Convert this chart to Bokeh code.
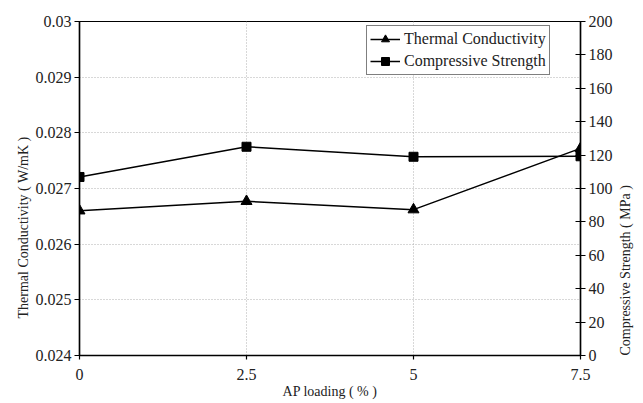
import math
from bokeh.plotting import figure
from bokeh.models import Range1d, LinearAxis, FixedTicker, Legend, LegendItem, Title
from bokeh.embed import file_html
from bokeh.resources import INLINE

# data
ap_loading = [0, 2.5, 5, 7.5]
thermal_conductivity = [0.0266, 0.02677, 0.02662, 0.02772]
compressive_strength = [106.9, 125.0, 119.0, 119.3]

x_ticks = [0, 2.5, 5, 7.5]
x_tick_labels = ["0", "2.5", "5", "7.5"]
y_ticks = [0.024, 0.025, 0.026, 0.027, 0.028, 0.029, 0.03]
y_tick_labels = ["0.024", "0.025", "0.026", "0.027", "0.028", "0.029", "0.03"]
y2_ticks = [0, 20, 40, 60, 80, 100, 120, 140, 160, 180, 200]

x_title = "AP loading ( % )"
y_title = "Thermal Conductivity ( W/mK )"
y2_title = "Compressive Strength ( MPa )"

FONT = "Liberation Serif"

p = figure(width=643, height=403, output_backend="svg", toolbar_location=None,
           x_range=Range1d(0, 7.5), y_range=Range1d(0.024, 0.03),
           min_border_left=79, min_border_right=60, min_border_top=21, min_border_bottom=48)
p.extra_y_ranges = {"cs": Range1d(0, 200)}
p.background_fill_color = "white"
p.border_fill_color = "white"
p.outline_line_color = "black"
p.outline_line_width = 1.2

# axes
xa = p.xaxis[0]
xa.ticker = FixedTicker(ticks=x_ticks)
xa.major_label_overrides = dict(zip(x_ticks, x_tick_labels))
xa.axis_label = x_title

ya = p.yaxis[0]
ya.ticker = FixedTicker(ticks=y_ticks)
ya.major_label_overrides = dict(zip(y_ticks, y_tick_labels))

y2 = LinearAxis(y_range_name="cs", ticker=FixedTicker(ticks=y2_ticks),
                axis_label=y2_title)
y2.axis_label_orientation = math.pi / 2
try:
    y2.axis_label_align = "start"
except Exception:
    pass
p.add_layout(y2, "right")

for ax in (xa, ya, y2):
    ax.axis_line_color = "black"
    ax.axis_line_width = 1.5
    ax.major_tick_line_color = "black"
    ax.major_tick_line_width = 1.2
    ax.minor_tick_line_color = None
    ax.major_label_text_font = FONT
    ax.major_label_text_font_size = "16px"
    ax.major_label_text_color = "#222222"
    ax.axis_label_text_font = FONT
    ax.axis_label_text_font_size = "14px"
    ax.axis_label_text_font_style = "normal"
    ax.axis_label_text_color = "#222222"

xa.major_tick_out = 4
xa.major_tick_in = 0
xa.major_label_standoff = 9
xa.axis_label_standoff = 1
ya.major_tick_out = 5
ya.major_tick_in = 0
ya.major_label_standoff = 3
y2.major_tick_out = 5
y2.major_tick_in = 5
y2.major_label_standoff = 3
y2.axis_label_standoff = 10

# left axis title, placed lower than centre like the original
left_title = Title(text=y_title, align="left", offset=37,
                   text_font=FONT, text_font_size="14px", text_font_style="normal",
                   text_color="#222222", standoff=4)
p.add_layout(left_title, "left")

# grid
p.xgrid.ticker = FixedTicker(ticks=x_ticks)
p.ygrid.ticker = FixedTicker(ticks=y_ticks)
for g in (p.xgrid[0], p.ygrid[0]):
    g.grid_line_color = "#b0b0b0"
    g.grid_line_dash = "1 2"
    g.grid_line_width = 1

# series
tc_line = p.line(ap_loading, thermal_conductivity, line_color="black", line_width=1.5)
tc_pts = p.scatter(ap_loading, thermal_conductivity, marker="triangle", size=11,
                   fill_color="black", line_color="black")
cs_line = p.line(ap_loading, compressive_strength, line_color="black", line_width=1.5,
                 y_range_name="cs")
cs_pts = p.scatter(ap_loading, compressive_strength, marker="square", size=9,
                   fill_color="black", line_color="black", y_range_name="cs")

legend = Legend(items=[
    LegendItem(label="Thermal Conductivity", renderers=[tc_line, tc_pts]),
    LegendItem(label="Compressive Strength", renderers=[cs_line, cs_pts]),
], location=(287, 280))
legend.label_text_font = FONT
legend.label_text_font_size = "16px"
legend.label_text_color = "#222222"
legend.border_line_color = "black"
legend.border_line_width = 1.2
legend.background_fill_color = "white"
legend.background_fill_alpha = 1
legend.glyph_width = 30
legend.glyph_height = 20
legend.label_standoff = 4
legend.spacing = 2
legend.padding = 3
legend.margin = 0
legend.label_height = 20
p.add_layout(legend)

open("out.html", "w").write(file_html(p, INLINE))
